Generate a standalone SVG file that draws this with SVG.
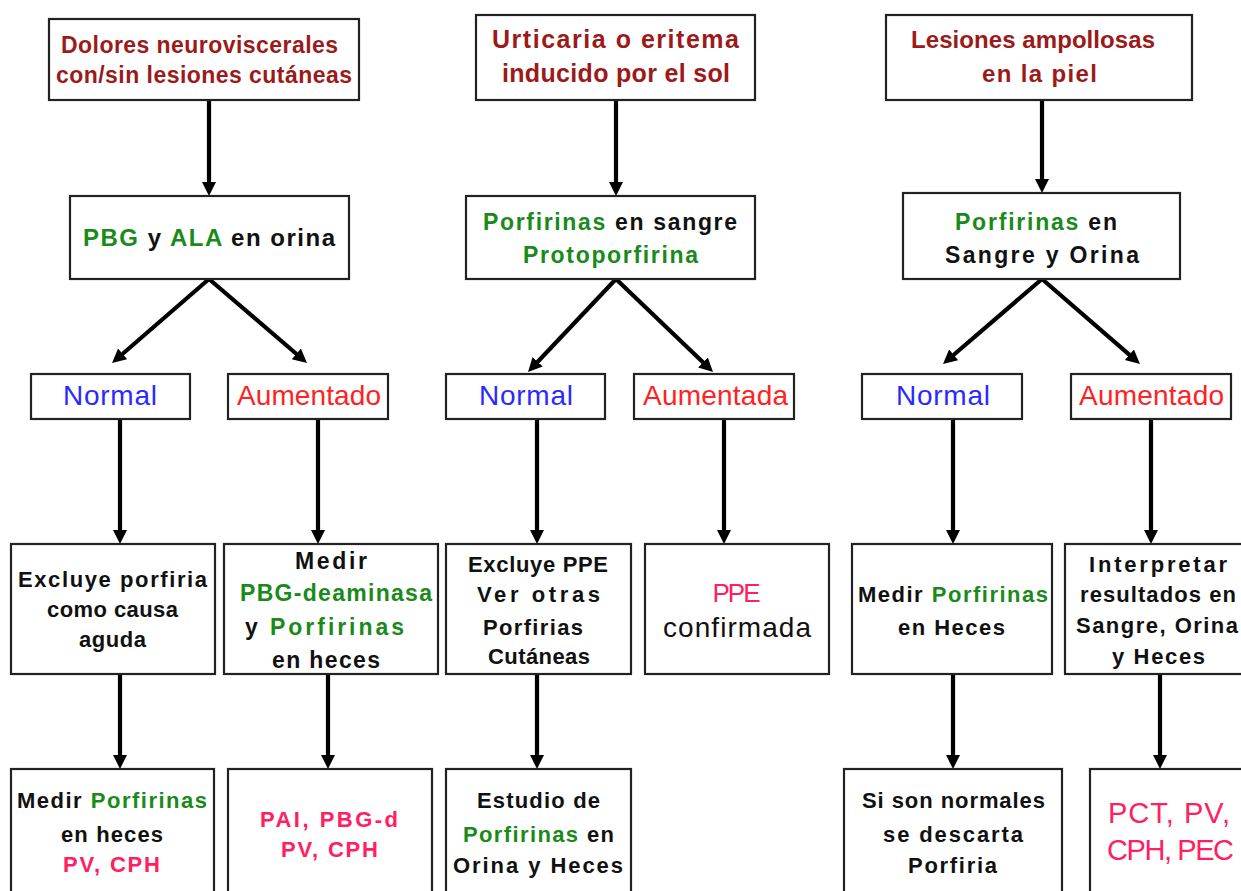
<svg xmlns="http://www.w3.org/2000/svg" width="1241" height="891" viewBox="0 0 1241 891">
<defs>
<marker id="ah" markerUnits="userSpaceOnUse" markerWidth="16" markerHeight="16" refX="4" refY="7" orient="auto">
<path d="M0,0 L14,7 L0,14 z" fill="#000"/>
</marker>
<style>
.box{fill:#fff;stroke:#222;stroke-width:2.2}
text{font-family:"Liberation Sans",Arial,sans-serif;text-anchor:middle;fill:#111;font-weight:bold}
.t{font-size:23px}
.m{font-size:22px}
.b{font-size:28px;font-weight:normal}
.mr{fill:#9b1a1a}
.g{fill:#1a8a1a}
.bl{fill:#2a2aff}
.rd{fill:#ff2222}
.pk{fill:#ff2060}
.c line{stroke:#000;stroke-width:4.2;marker-end:url(#ah)}
</style>
</defs>
<rect width="1241" height="891" fill="#fff"/>

<g id="connectors" class="c">
<line x1="209" y1="100" x2="209" y2="186"/>
<line x1="209" y1="279" x2="119.6" y2="356.5"/>
<line x1="209" y1="279" x2="299.4" y2="356.5"/>
<line x1="120" y1="419" x2="120" y2="534"/>
<line x1="318" y1="419" x2="318" y2="534"/>
<line x1="120" y1="674" x2="120" y2="759"/>
<line x1="328" y1="674" x2="328" y2="759"/>

<line x1="616" y1="100" x2="616" y2="186"/>
<line x1="616" y1="279" x2="534.9" y2="364.7"/>
<line x1="616" y1="279" x2="705.8" y2="365.1"/>
<line x1="537" y1="419" x2="537" y2="534"/>
<line x1="724" y1="419" x2="724" y2="534"/>
<line x1="537" y1="674" x2="537" y2="759"/>

<line x1="1042" y1="100" x2="1042" y2="183"/>
<line x1="1042" y1="279" x2="950.6" y2="357.5"/>
<line x1="1042" y1="279" x2="1132.4" y2="357.4"/>
<line x1="953" y1="419" x2="953" y2="534"/>
<line x1="1151" y1="419" x2="1151" y2="534"/>
<line x1="953" y1="674" x2="953" y2="759"/>
<line x1="1160" y1="674" x2="1160" y2="759"/>
</g>

<g id="n1">
<rect class="box" x="49" y="19" width="310" height="81"/>
<text class="t mr" x="199.5" y="53" textLength="277" lengthAdjust="spacing">Dolores neuroviscerales</text>
<text class="t mr" x="204" y="83" textLength="296" lengthAdjust="spacing">con/sin lesiones cutáneas</text>
</g>
<g id="n2">
<rect class="box" x="70" y="196" width="279" height="83"/>
<text class="t" x="209" y="246" textLength="252" lengthAdjust="spacing" style="font-size:24px"><tspan class="g">PBG</tspan> y <tspan class="g">ALA</tspan> en orina</text>
</g>
<g id="n3">
<rect class="box" x="31" y="374" width="159" height="45"/>
<text class="b bl" x="110" y="405" textLength="94" lengthAdjust="spacing">Normal</text>
</g>
<g id="n4">
<rect class="box" x="228" y="374" width="160" height="45"/>
<text class="b rd" x="309" y="405" textLength="144" lengthAdjust="spacing">Aumentado</text>
</g>
<g id="n5">
<rect class="box" x="11" y="544" width="204" height="130"/>
<text class="m" x="112.5" y="587" textLength="189" lengthAdjust="spacing">Excluye porfiria</text>
<text class="m" x="112.5" y="617" textLength="131" lengthAdjust="spacing">como causa</text>
<text class="m" x="112.5" y="647" textLength="67" lengthAdjust="spacing">aguda</text>
</g>
<g id="n6">
<rect class="box" x="224" y="544" width="214" height="130"/>
<text class="t" x="331" y="569" textLength="72" lengthAdjust="spacing">Medir</text>
<text class="t g" x="336" y="601" textLength="192" lengthAdjust="spacing">PBG-deaminasa</text>
<text class="t" x="324.5" y="635" textLength="159" lengthAdjust="spacing">y   <tspan class="g">Porfirinas</tspan></text>
<text class="t" x="326" y="668" textLength="108" lengthAdjust="spacing">en heces</text>
</g>
<g id="n7">
<rect class="box" x="11" y="769" width="203" height="140"/>
<text class="m" x="112" y="808" textLength="190" lengthAdjust="spacing">Medir <tspan class="g">Porfirinas</tspan></text>
<text class="m" x="112" y="842" textLength="102" lengthAdjust="spacing">en heces</text>
<text class="m pk" x="111.5" y="872" textLength="97" lengthAdjust="spacing">PV, CPH</text>
</g>
<g id="n8">
<rect class="box" x="228" y="769" width="204" height="140"/>
<text class="m pk" x="329" y="827" textLength="138" lengthAdjust="spacing">PAI, PBG-d</text>
<text class="m pk" x="329.5" y="857" textLength="97" lengthAdjust="spacing">PV, CPH</text>
</g>

<g id="n9">
<rect class="box" x="476" y="15" width="279" height="85"/>
<text class="t mr" x="615.5" y="48" textLength="247" lengthAdjust="spacing" style="font-size:25px">Urticaria o eritema</text>
<text class="t mr" x="616" y="82" textLength="228" lengthAdjust="spacing" style="font-size:25px">inducido por el sol</text>
</g>
<g id="n10">
<rect class="box" x="466" y="196" width="289" height="83"/>
<text class="t" x="610" y="230" textLength="254" lengthAdjust="spacing"><tspan class="g">Porfirinas</tspan> en sangre</text>
<text class="t g" x="610.5" y="263" textLength="175" lengthAdjust="spacing">Protoporfirina</text>
</g>
<g id="n11">
<rect class="box" x="446" y="374" width="159" height="45"/>
<text class="b bl" x="526" y="405" textLength="94" lengthAdjust="spacing">Normal</text>
</g>
<g id="n12">
<rect class="box" x="634" y="374" width="160" height="45"/>
<text class="b rd" x="715.5" y="405" textLength="145" lengthAdjust="spacing">Aumentada</text>
</g>
<g id="n13">
<rect class="box" x="446" y="544" width="185" height="130"/>
<text class="m" x="538" y="572" textLength="140" lengthAdjust="spacing">Excluye PPE</text>
<text class="m" x="538.5" y="602" textLength="123" lengthAdjust="spacing">Ver  otras</text>
<text class="m" x="533" y="635" textLength="100" lengthAdjust="spacing">Porfirias</text>
<text class="m" x="539" y="664" textLength="102" lengthAdjust="spacing">Cutáneas</text>
</g>
<g id="n14">
<rect class="box" x="645" y="544" width="184" height="130"/>
<text class="b pk" x="736.5" y="602" textLength="48" lengthAdjust="spacing" style="font-size:26px">PPE</text>
<text class="b" x="737" y="637" textLength="148" lengthAdjust="spacing">confirmada</text>
</g>
<g id="n15">
<rect class="box" x="446" y="769" width="185" height="140"/>
<text class="m" x="538.5" y="808" textLength="123" lengthAdjust="spacing">Estudio de</text>
<text class="m" x="538.5" y="842" textLength="151" lengthAdjust="spacing"><tspan class="g">Porfirinas</tspan> en</text>
<text class="m" x="538" y="873" textLength="170" lengthAdjust="spacing">Orina y Heces</text>
</g>

<g id="n16">
<rect class="box" x="886" y="15" width="306" height="85"/>
<text class="t mr" x="1033" y="48" textLength="244" lengthAdjust="spacing" style="font-size:24px">Lesiones ampollosas</text>
<text class="t mr" x="1039.5" y="82" textLength="115" lengthAdjust="spacing" style="font-size:24px">en la piel</text>
</g>
<g id="n17">
<rect class="box" x="903" y="193" width="277" height="86"/>
<text class="t" x="1036" y="230" textLength="162" lengthAdjust="spacing"><tspan class="g">Porfirinas</tspan> en</text>
<text class="t" x="1042" y="263" textLength="194" lengthAdjust="spacing">Sangre y Orina</text>
</g>
<g id="n18">
<rect class="box" x="862" y="374" width="160" height="45"/>
<text class="b bl" x="943" y="405" textLength="94" lengthAdjust="spacing">Normal</text>
</g>
<g id="n19">
<rect class="box" x="1071" y="374" width="160" height="45"/>
<text class="b rd" x="1151.5" y="405" textLength="145" lengthAdjust="spacing">Aumentado</text>
</g>
<g id="n20">
<rect class="box" x="852" y="544" width="200" height="130"/>
<text class="m" x="953" y="602" textLength="190" lengthAdjust="spacing">Medir <tspan class="g">Porfirinas</tspan></text>
<text class="m" x="951.5" y="635" textLength="107" lengthAdjust="spacing">en Heces</text>
</g>
<g id="n21">
<rect class="box" x="1065" y="544" width="190" height="130"/>
<text class="m" x="1158" y="572" textLength="138" lengthAdjust="spacing">Interpretar</text>
<text class="m" x="1158" y="602" textLength="156" lengthAdjust="spacing">resultados en</text>
<text class="m" x="1157" y="633" textLength="162" lengthAdjust="spacing">Sangre, Orina</text>
<text class="m" x="1158.5" y="664" textLength="93" lengthAdjust="spacing">y Heces</text>
</g>
<g id="n22">
<rect class="box" x="844" y="769" width="218" height="140"/>
<text class="m" x="953.5" y="808" textLength="183" lengthAdjust="spacing">Si son normales</text>
<text class="m" x="953" y="842" textLength="140" lengthAdjust="spacing">se descarta</text>
<text class="m" x="952.5" y="873" textLength="89" lengthAdjust="spacing">Porfiria</text>
</g>
<g id="n23">
<rect class="box" x="1090" y="769" width="200" height="140"/>
<text class="b pk" x="1169" y="823" textLength="122" lengthAdjust="spacing" style="font-size:29px">PCT, PV,</text>
<text class="b pk" x="1170.5" y="860" textLength="127" lengthAdjust="spacing" style="font-size:29px">CPH, PEC</text>
</g>
</svg>
